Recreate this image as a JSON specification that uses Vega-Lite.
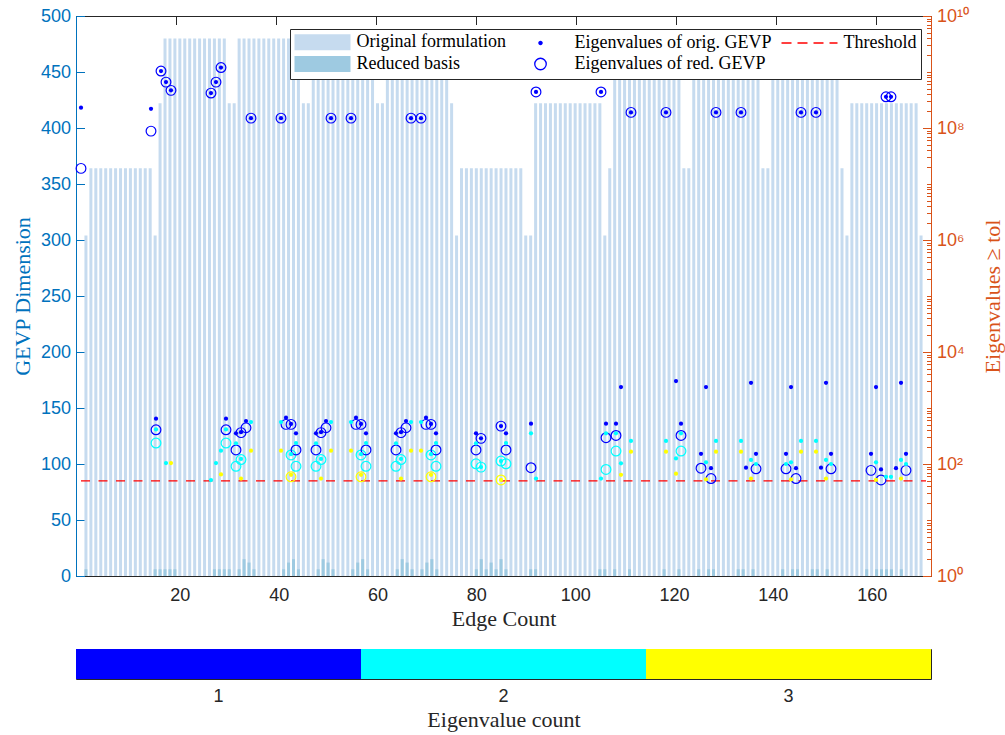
{
  "$schema": "https://vega.github.io/schema/vega-lite/v6.json",
  "background": "white",
  "padding": {"left": 10, "top": 6, "right": 0, "bottom": 2},
  "config": {
    "view": {"stroke": "#262626", "strokeWidth": 1},
    "axis": {"labelFont": "Liberation Sans", "labelFontSize": 18, "titleFont": "Liberation Serif", "titleFontSize": 22, "titleFontWeight": "normal", "grid": false, "domainWidth": 1, "tickWidth": 1}
  },
  "datasets": {
    "orig": [
      {"edge":1,"dim":304},{"edge":2,"dim":364},{"edge":3,"dim":364},{"edge":4,"dim":364},{"edge":5,"dim":364},{"edge":6,"dim":364},{"edge":7,"dim":364},{"edge":8,"dim":364},{"edge":9,"dim":364},{"edge":10,"dim":364},
      {"edge":11,"dim":364},{"edge":12,"dim":364},{"edge":13,"dim":364},{"edge":14,"dim":364},{"edge":15,"dim":304},{"edge":16,"dim":422},{"edge":17,"dim":480},{"edge":18,"dim":480},{"edge":19,"dim":480},{"edge":20,"dim":480},
      {"edge":21,"dim":480},{"edge":22,"dim":480},{"edge":23,"dim":480},{"edge":24,"dim":480},{"edge":25,"dim":480},{"edge":26,"dim":480},{"edge":27,"dim":480},{"edge":28,"dim":480},{"edge":29,"dim":480},{"edge":30,"dim":422},
      {"edge":31,"dim":422},{"edge":32,"dim":480},{"edge":33,"dim":480},{"edge":34,"dim":480},{"edge":35,"dim":480},{"edge":36,"dim":480},{"edge":37,"dim":480},{"edge":38,"dim":480},{"edge":39,"dim":480},{"edge":40,"dim":480},
      {"edge":41,"dim":480},{"edge":42,"dim":480},{"edge":43,"dim":480},{"edge":44,"dim":480},{"edge":45,"dim":422},{"edge":46,"dim":422},{"edge":47,"dim":480},{"edge":48,"dim":480},{"edge":49,"dim":480},{"edge":50,"dim":480},
      {"edge":51,"dim":480},{"edge":52,"dim":480},{"edge":53,"dim":480},{"edge":54,"dim":480},{"edge":55,"dim":480},{"edge":56,"dim":480},{"edge":57,"dim":480},{"edge":58,"dim":480},{"edge":59,"dim":480},{"edge":60,"dim":422},
      {"edge":61,"dim":422},{"edge":62,"dim":480},{"edge":63,"dim":480},{"edge":64,"dim":480},{"edge":65,"dim":480},{"edge":66,"dim":480},{"edge":67,"dim":480},{"edge":68,"dim":480},{"edge":69,"dim":480},{"edge":70,"dim":480},
      {"edge":71,"dim":480},{"edge":72,"dim":480},{"edge":73,"dim":480},{"edge":74,"dim":480},{"edge":75,"dim":422},{"edge":76,"dim":304},{"edge":77,"dim":364},{"edge":78,"dim":364},{"edge":79,"dim":364},{"edge":80,"dim":364},
      {"edge":81,"dim":364},{"edge":82,"dim":364},{"edge":83,"dim":364},{"edge":84,"dim":364},{"edge":85,"dim":364},{"edge":86,"dim":364},{"edge":87,"dim":364},{"edge":88,"dim":364},{"edge":89,"dim":364},{"edge":90,"dim":304},
      {"edge":91,"dim":304},{"edge":92,"dim":422},{"edge":93,"dim":422},{"edge":94,"dim":422},{"edge":95,"dim":422},{"edge":96,"dim":422},{"edge":97,"dim":422},{"edge":98,"dim":422},{"edge":99,"dim":422},{"edge":100,"dim":422},
      {"edge":101,"dim":422},{"edge":102,"dim":422},{"edge":103,"dim":422},{"edge":104,"dim":422},{"edge":105,"dim":422},{"edge":106,"dim":304},{"edge":107,"dim":364},{"edge":108,"dim":480},{"edge":109,"dim":480},{"edge":110,"dim":480},
      {"edge":111,"dim":480},{"edge":112,"dim":480},{"edge":113,"dim":480},{"edge":114,"dim":480},{"edge":115,"dim":480},{"edge":116,"dim":480},{"edge":117,"dim":480},{"edge":118,"dim":480},{"edge":119,"dim":480},{"edge":120,"dim":480},
      {"edge":121,"dim":480},{"edge":122,"dim":364},{"edge":123,"dim":364},{"edge":124,"dim":480},{"edge":125,"dim":480},{"edge":126,"dim":480},{"edge":127,"dim":480},{"edge":128,"dim":480},{"edge":129,"dim":480},{"edge":130,"dim":480},
      {"edge":131,"dim":480},{"edge":132,"dim":480},{"edge":133,"dim":480},{"edge":134,"dim":480},{"edge":135,"dim":480},{"edge":136,"dim":480},{"edge":137,"dim":480},{"edge":138,"dim":364},{"edge":139,"dim":364},{"edge":140,"dim":480},
      {"edge":141,"dim":480},{"edge":142,"dim":480},{"edge":143,"dim":480},{"edge":144,"dim":480},{"edge":145,"dim":480},{"edge":146,"dim":480},{"edge":147,"dim":480},{"edge":148,"dim":480},{"edge":149,"dim":480},{"edge":150,"dim":480},
      {"edge":151,"dim":480},{"edge":152,"dim":480},{"edge":153,"dim":480},{"edge":154,"dim":364},{"edge":155,"dim":304},{"edge":156,"dim":422},{"edge":157,"dim":422},{"edge":158,"dim":422},{"edge":159,"dim":422},{"edge":160,"dim":422},
      {"edge":161,"dim":422},{"edge":162,"dim":422},{"edge":163,"dim":422},{"edge":164,"dim":422},{"edge":165,"dim":422},{"edge":166,"dim":422},{"edge":167,"dim":422},{"edge":168,"dim":422},{"edge":169,"dim":422},{"edge":170,"dim":304}
    ],
    "reduced": [
      {"edge":1,"dim":6},{"edge":15,"dim":6},{"edge":16,"dim":6},{"edge":17,"dim":6},{"edge":18,"dim":6},{"edge":19,"dim":6},
      {"edge":27,"dim":6},{"edge":28,"dim":6},{"edge":29,"dim":6},{"edge":30,"dim":6},
      {"edge":32,"dim":6},{"edge":33,"dim":15},{"edge":34,"dim":12},{"edge":35,"dim":6},
      {"edge":41,"dim":6},{"edge":42,"dim":12},{"edge":43,"dim":15},{"edge":44,"dim":6},
      {"edge":48,"dim":6},{"edge":49,"dim":15},{"edge":50,"dim":12},{"edge":51,"dim":6},
      {"edge":55,"dim":6},{"edge":56,"dim":12},{"edge":57,"dim":15},{"edge":58,"dim":6},
      {"edge":64,"dim":6},{"edge":65,"dim":15},{"edge":66,"dim":12},{"edge":67,"dim":6},
      {"edge":69,"dim":6},{"edge":70,"dim":12},{"edge":71,"dim":15},{"edge":72,"dim":6},
      {"edge":80,"dim":6},{"edge":81,"dim":15},{"edge":82,"dim":6},{"edge":83,"dim":12},{"edge":84,"dim":6},{"edge":85,"dim":15},{"edge":86,"dim":6},
      {"edge":91,"dim":6},{"edge":92,"dim":6},{"edge":105,"dim":6},{"edge":106,"dim":6},{"edge":108,"dim":6},{"edge":111,"dim":6},{"edge":118,"dim":6},{"edge":121,"dim":6},
      {"edge":125,"dim":6},{"edge":127,"dim":6},{"edge":128,"dim":6},{"edge":133,"dim":6},{"edge":134,"dim":6},{"edge":136,"dim":6},
      {"edge":142,"dim":6},{"edge":144,"dim":6},{"edge":145,"dim":6},{"edge":148,"dim":6},{"edge":149,"dim":6},{"edge":151,"dim":6},
      {"edge":159,"dim":6},{"edge":161,"dim":6},{"edge":162,"dim":6},{"edge":163,"dim":6},{"edge":164,"dim":6},{"edge":166,"dim":6}
    ],
    "eigOrig": [
      {"edge":1,"eig":2.3e8,"k":1},{"edge":15,"eig":2.2e8,"k":1},
      {"edge":16,"eig":645,"k":1},{"edge":16,"eig":415,"k":2},
      {"edge":17,"eig":1.04e9,"k":1},
      {"edge":18,"eig":6.6e8,"k":1},{"edge":18,"eig":104,"k":2},
      {"edge":19,"eig":4.7e8,"k":1},{"edge":19,"eig":104,"k":3},
      {"edge":27,"eig":4.2e8,"k":1},{"edge":27,"eig":51.6,"k":2},
      {"edge":28,"eig":6.6e8,"k":1},{"edge":28,"eig":104,"k":2},
      {"edge":29,"eig":1.2e9,"k":1},{"edge":29,"eig":173,"k":2},{"edge":29,"eig":65,"k":3},
      {"edge":30,"eig":645,"k":1},{"edge":30,"eig":415,"k":2},
      {"edge":32,"eig":354,"k":1},{"edge":32,"eig":234,"k":2},{"edge":33,"eig":370,"k":1},{"edge":33,"eig":123,"k":2},{"edge":33,"eig":55,"k":3},{"edge":34,"eig":586,"k":1},{"edge":35,"eig":1.5e8,"k":1},{"edge":35,"eig":562,"k":2},{"edge":35,"eig":173,"k":3},
      {"edge":41,"eig":1.5e8,"k":1},{"edge":41,"eig":562,"k":2},{"edge":41,"eig":173,"k":3},{"edge":42,"eig":670,"k":1},{"edge":43,"eig":520,"k":1},{"edge":43,"eig":150,"k":2},{"edge":43,"eig":64,"k":3},{"edge":44,"eig":354,"k":1},{"edge":44,"eig":237,"k":2},
      {"edge":48,"eig":354,"k":1},{"edge":48,"eig":234,"k":2},{"edge":49,"eig":370,"k":1},{"edge":49,"eig":123,"k":2},{"edge":49,"eig":55,"k":3},{"edge":50,"eig":586,"k":1},{"edge":51,"eig":1.5e8,"k":1},{"edge":51,"eig":562,"k":2},{"edge":51,"eig":173,"k":3},
      {"edge":55,"eig":1.5e8,"k":1},{"edge":55,"eig":562,"k":2},{"edge":55,"eig":173,"k":3},{"edge":56,"eig":670,"k":1},{"edge":57,"eig":520,"k":1},{"edge":57,"eig":150,"k":2},{"edge":57,"eig":64,"k":3},{"edge":58,"eig":354,"k":1},{"edge":58,"eig":237,"k":2},
      {"edge":64,"eig":354,"k":1},{"edge":64,"eig":234,"k":2},{"edge":65,"eig":370,"k":1},{"edge":65,"eig":123,"k":2},{"edge":65,"eig":55,"k":3},{"edge":66,"eig":586,"k":1},{"edge":67,"eig":1.5e8,"k":1},{"edge":67,"eig":562,"k":2},{"edge":67,"eig":173,"k":3},
      {"edge":69,"eig":1.5e8,"k":1},{"edge":69,"eig":562,"k":2},{"edge":69,"eig":173,"k":3},{"edge":70,"eig":670,"k":1},{"edge":71,"eig":520,"k":1},{"edge":71,"eig":150,"k":2},{"edge":71,"eig":64,"k":3},{"edge":72,"eig":354,"k":1},{"edge":72,"eig":237,"k":2},
      {"edge":80,"eig":354,"k":1},{"edge":80,"eig":234,"k":2},{"edge":81,"eig":287,"k":1},{"edge":81,"eig":88,"k":2},{"edge":85,"eig":475,"k":1},{"edge":85,"eig":113,"k":2},{"edge":85,"eig":52,"k":3},{"edge":86,"eig":354,"k":1},{"edge":86,"eig":237,"k":2},
      {"edge":91,"eig":525,"k":1},{"edge":91,"eig":354,"k":2},{"edge":92,"eig":4.4e8,"k":1},{"edge":92,"eig":55,"k":2},
      {"edge":105,"eig":4.4e8,"k":1},{"edge":105,"eig":55,"k":2},{"edge":106,"eig":525,"k":1},{"edge":106,"eig":354,"k":2},{"edge":108,"eig":525,"k":1},{"edge":108,"eig":354,"k":2},
      {"edge":109,"eig":2370,"k":1},{"edge":109,"eig":103,"k":2},{"edge":109,"eig":64,"k":3},
      {"edge":111,"eig":1.9e8,"k":1},{"edge":111,"eig":258,"k":2},{"edge":111,"eig":166,"k":3},
      {"edge":118,"eig":1.9e8,"k":1},{"edge":118,"eig":258,"k":2},{"edge":118,"eig":166,"k":3},
      {"edge":120,"eig":3030,"k":1},{"edge":120,"eig":126,"k":2},{"edge":120,"eig":67,"k":3},{"edge":121,"eig":525,"k":1},{"edge":121,"eig":354,"k":2},
      {"edge":125,"eig":152,"k":1},{"edge":126,"eig":2370,"k":1},{"edge":126,"eig":107,"k":2},{"edge":126,"eig":53,"k":3},{"edge":127,"eig":84,"k":1},
      {"edge":128,"eig":1.9e8,"k":1},{"edge":128,"eig":258,"k":2},{"edge":128,"eig":166,"k":3},
      {"edge":133,"eig":1.9e8,"k":1},{"edge":133,"eig":258,"k":2},{"edge":133,"eig":166,"k":3},
      {"edge":134,"eig":86,"k":1},{"edge":135,"eig":2820,"k":1},{"edge":135,"eig":118,"k":2},{"edge":135,"eig":55,"k":3},{"edge":136,"eig":152,"k":1},{"edge":136,"eig":100,"k":2},
      {"edge":142,"eig":152,"k":1},{"edge":142,"eig":100,"k":2},{"edge":143,"eig":2370,"k":1},{"edge":143,"eig":107,"k":2},{"edge":143,"eig":53,"k":3},{"edge":144,"eig":84,"k":1},
      {"edge":145,"eig":1.9e8,"k":1},{"edge":145,"eig":258,"k":2},{"edge":145,"eig":166,"k":3},
      {"edge":148,"eig":1.9e8,"k":1},{"edge":148,"eig":258,"k":2},{"edge":148,"eig":166,"k":3},
      {"edge":149,"eig":86,"k":1},{"edge":150,"eig":2820,"k":1},{"edge":150,"eig":118,"k":2},{"edge":150,"eig":55,"k":3},{"edge":151,"eig":152,"k":1},{"edge":151,"eig":100,"k":2},
      {"edge":159,"eig":152,"k":1},{"edge":160,"eig":2370,"k":1},{"edge":160,"eig":107,"k":2},{"edge":160,"eig":52,"k":3},{"edge":161,"eig":80,"k":1},
      {"edge":162,"eig":3.6e8,"k":1},{"edge":162,"eig":59,"k":2},{"edge":163,"eig":3.6e8,"k":1},{"edge":163,"eig":59,"k":2},
      {"edge":164,"eig":84,"k":1},{"edge":165,"eig":2820,"k":1},{"edge":165,"eig":118,"k":2},{"edge":165,"eig":55,"k":3},{"edge":166,"eig":152,"k":1},{"edge":166,"eig":100,"k":2}
    ],
    "eigRed": [
      {"edge":1,"eig":1.9e7,"k":1},{"edge":15,"eig":8.8e7,"k":1},{"edge":16,"eig":408,"k":1},{"edge":16,"eig":237,"k":2},
      {"edge":17,"eig":1.04e9,"k":1},{"edge":18,"eig":6.6e8,"k":1},{"edge":19,"eig":4.7e8,"k":1},
      {"edge":27,"eig":4.2e8,"k":1},{"edge":28,"eig":6.6e8,"k":1},{"edge":29,"eig":1.2e9,"k":1},{"edge":30,"eig":408,"k":1},{"edge":30,"eig":237,"k":2},
      {"edge":32,"eig":178,"k":1},{"edge":32,"eig":91,"k":2},{"edge":33,"eig":363,"k":1},{"edge":33,"eig":120,"k":2},{"edge":34,"eig":444,"k":1},{"edge":35,"eig":1.5e8,"k":1},
      {"edge":41,"eig":1.5e8,"k":1},{"edge":42,"eig":510,"k":1},{"edge":43,"eig":510,"k":1},{"edge":43,"eig":145,"k":2},{"edge":43,"eig":59,"k":3},{"edge":44,"eig":178,"k":1},{"edge":44,"eig":91,"k":2},
      {"edge":48,"eig":178,"k":1},{"edge":48,"eig":91,"k":2},{"edge":49,"eig":363,"k":1},{"edge":49,"eig":120,"k":2},{"edge":50,"eig":444,"k":1},{"edge":51,"eig":1.5e8,"k":1},
      {"edge":55,"eig":1.5e8,"k":1},{"edge":56,"eig":510,"k":1},{"edge":57,"eig":510,"k":1},{"edge":57,"eig":145,"k":2},{"edge":57,"eig":59,"k":3},{"edge":58,"eig":178,"k":1},{"edge":58,"eig":91,"k":2},
      {"edge":64,"eig":178,"k":1},{"edge":64,"eig":91,"k":2},{"edge":65,"eig":363,"k":1},{"edge":65,"eig":120,"k":2},{"edge":66,"eig":444,"k":1},{"edge":67,"eig":1.5e8,"k":1},
      {"edge":69,"eig":1.5e8,"k":1},{"edge":70,"eig":510,"k":1},{"edge":71,"eig":510,"k":1},{"edge":71,"eig":145,"k":2},{"edge":71,"eig":59,"k":3},{"edge":72,"eig":178,"k":1},{"edge":72,"eig":91,"k":2},
      {"edge":80,"eig":178,"k":1},{"edge":80,"eig":101,"k":2},{"edge":81,"eig":287,"k":1},{"edge":81,"eig":88,"k":2},{"edge":85,"eig":475,"k":1},{"edge":85,"eig":113,"k":2},{"edge":85,"eig":52,"k":3},{"edge":86,"eig":178,"k":1},{"edge":86,"eig":101,"k":2},
      {"edge":91,"eig":86,"k":1},{"edge":92,"eig":4.4e8,"k":1},{"edge":105,"eig":4.4e8,"k":1},{"edge":106,"eig":295,"k":1},{"edge":106,"eig":80,"k":2},{"edge":108,"eig":324,"k":1},{"edge":108,"eig":170,"k":2},
      {"edge":111,"eig":1.9e8,"k":1},{"edge":118,"eig":1.9e8,"k":1},{"edge":121,"eig":324,"k":1},{"edge":121,"eig":170,"k":2},
      {"edge":125,"eig":84,"k":1},{"edge":127,"eig":55,"k":1},{"edge":128,"eig":1.9e8,"k":1},{"edge":133,"eig":1.9e8,"k":1},{"edge":136,"eig":82,"k":1},
      {"edge":142,"eig":82,"k":1},{"edge":144,"eig":55,"k":1},{"edge":145,"eig":1.9e8,"k":1},{"edge":148,"eig":1.9e8,"k":1},{"edge":151,"eig":82,"k":1},
      {"edge":159,"eig":77,"k":1},{"edge":161,"eig":52,"k":1},{"edge":162,"eig":3.6e8,"k":1},{"edge":163,"eig":3.6e8,"k":1},{"edge":166,"eig":77,"k":1}
    ],
    "thr": [{"from":1,"to":170,"tol":50}],
    "legendItems": [
      {"item":"Original formulation"},{"item":"Eigenvalues of orig. GEVP"},{"item":"Threshold"},{"item":"Reduced basis"},{"item":"Eigenvalues of red. GEVP"}
    ],
    "counts": [{"k":1},{"k":2},{"k":3}]
  },
  "vconcat": [
    {
      "width": 855,
      "height": 560,
      "layer": [
        {
          "layer": [
            {
              "data": {"name": "orig"},
              "mark": {"type": "bar", "width": 3, "color": "#c6dbef"},
              "encoding": {
                "x": {"field": "edge", "type": "quantitative", "scale": {"domain": [0, 171], "nice": false, "zero": false},
                  "axis": {"orient": "bottom", "values": [20,40,60,80,100,120,140,160], "title": "Edge Count", "tickSize": -8.5, "labelPadding": 19, "titlePadding": 4,
                    "domainColor": "#262626", "tickColor": "#262626", "labelColor": "#262626", "titleColor": "#262626"}},
                "y": {"field": "dim", "type": "quantitative", "scale": {"domain": [0, 500], "nice": false},
                  "axis": {"orient": "left", "values": [0,50,100,150,200,250,300,350,400,450,500], "title": "GEVP Dimension", "tickSize": -8.5, "labelPadding": 14, "titlePadding": 6,
                    "domainColor": "#0072BD", "tickColor": "#0072BD", "labelColor": "#0072BD", "titleColor": "#0072BD"}}
              }
            },
            {
              "data": {"name": "reduced"},
              "mark": {"type": "bar", "width": 3, "color": "#9ecae1"},
              "encoding": {
                "x": {"field": "edge", "type": "quantitative"},
                "y": {"field": "dim", "type": "quantitative"}
              }
            }
          ]
        },
        {
          "layer": [
            {
              "data": {"name": "thr"},
              "mark": {"type": "rule", "color": "#ff0000", "strokeWidth": 1.3, "strokeDash": [9, 8.5]},
              "encoding": {
                "x": {"field": "from", "type": "quantitative", "scale": {"domain": [0, 171], "nice": false, "zero": false},
                  "axis": {"orient": "top", "values": [20,40,60,80,100,120,140,160], "labels": false, "title": null, "tickSize": -8.5, "domainColor": "#262626", "tickColor": "#262626"}},
                "x2": {"field": "to"},
                "y": {"field": "tol", "type": "quantitative", "scale": {"type": "log", "domain": [1, 1e10], "nice": false},
                  "axis": {"orient": "right", "values": [1, 100, 10000, 1000000, 100000000, 10000000000], "tickSize": -8.5, "labelPadding": 14, "titlePadding": 14,
                    "labelExpr": "datum.value == 1 ? '10⁰' : datum.value == 100 ? '10²' : datum.value == 10000 ? '10⁴' : datum.value == 1000000 ? '10⁶' : datum.value == 100000000 ? '10⁸' : '10¹⁰'",
                    "title": "Eigenvalues ≥ tol", "titleAngle": 270, "titleBaseline": "top", "domainColor": "#D95319", "tickColor": "#D95319", "labelColor": "#D95319", "titleColor": "#D95319"}}
              }
            },
            {
              "data": {"name": "eigRed"},
              "mark": {"type": "point", "filled": false, "size": 95, "strokeWidth": 1.2, "opacity": 1},
              "encoding": {
                "x": {"field": "edge", "type": "quantitative"},
                "y": {"field": "eig", "type": "quantitative"},
                "color": {"field": "k", "type": "ordinal", "scale": {"domain": [1, 2, 3], "range": ["#0000ff", "#00ffff", "#ffff00"]}, "legend": null}
              }
            },
            {
              "data": {"name": "eigOrig"},
              "mark": {"type": "point", "filled": true, "size": 18, "opacity": 1},
              "encoding": {
                "x": {"field": "edge", "type": "quantitative"},
                "y": {"field": "eig", "type": "quantitative"},
                "color": {"field": "k", "type": "ordinal", "scale": {"domain": [1, 2, 3], "range": ["#0000ff", "#00ffff", "#ffff00"]}, "legend": null}
              }
            }
          ]
        },
        {
          "data": {"name": "legendItems"},
          "mark": {"type": "point", "opacity": 1},
          "encoding": {
            "x": {"field": "edge", "type": "quantitative", "scale": {"domain": [0, 171], "nice": false, "zero": false}, "axis": null},
            "y": {"field": "eig", "type": "quantitative", "scale": {"type": "log", "domain": [1, 1e10], "nice": false},
              "axis": {"orient": "right", "labels": false, "domain": false, "title": null, "tickSize": -4.5, "tickColor": "#D95319",
                "values": [2,3,4,5,6,7,8,9,10,20,30,40,50,60,70,80,90,200,300,400,500,600,700,800,900,1000,2000,3000,4000,5000,6000,7000,8000,9000,20000,30000,40000,50000,60000,70000,80000,90000,100000,200000,300000,400000,500000,600000,700000,800000,900000,2e6,3e6,4e6,5e6,6e6,7e6,8e6,9e6,1e7,2e7,3e7,4e7,5e7,6e7,7e7,8e7,9e7,2e8,3e8,4e8,5e8,6e8,7e8,8e8,9e8,1e9,2e9,3e9,4e9,5e9,6e9,7e9,8e9,9e9]}},
            "shape": {"field": "item", "type": "nominal",
              "scale": {"domain": ["Original formulation","Eigenvalues of orig. GEVP","Threshold","Reduced basis","Eigenvalues of red. GEVP"],
                "range": ["M-3.5,-1H3.5V1H-3.5Z", "M0.28,0A0.28,0.28,0,1,1,-0.28,0A0.28,0.28,0,1,1,0.28,0Z", "M-3.5,0H-2.25M-1.5,0H-0.25M0.5,0H1.75M2.5,0H3.5", "M-3.5,-1H3.5V1H-3.5Z", "M0.72,0A0.72,0.72,0,1,1,-0.72,0A0.72,0.72,0,1,1,0.72,0Z"]},
              "legend": {"orient": "none", "legendX": 214, "legendY": 13, "direction": "horizontal", "columns": 3, "title": null,
                "symbolSize": 256, "symbolOffset": 19.5, "labelOffset": 25, "symbolStrokeWidth": 1.3, "symbolOpacity": 1,
                "labelFont": "Liberation Serif", "labelFontSize": 18, "labelColor": "#000000", "labelLimit": 400,
                "strokeColor": "#262626", "fillColor": "#ffffff", "padding": 4, "rowPadding": 0, "columnPadding": 6}},
            "fill": {"field": "item", "type": "nominal",
              "scale": {"domain": ["Original formulation","Eigenvalues of orig. GEVP","Threshold","Reduced basis","Eigenvalues of red. GEVP"],
                "range": ["#c6dbef", "#0000ff", "transparent", "#9ecae1", "transparent"]},
              "legend": {"orient": "none", "legendX": 214, "legendY": 13, "direction": "horizontal", "columns": 3, "title": null}},
            "stroke": {"field": "item", "type": "nominal",
              "scale": {"domain": ["Original formulation","Eigenvalues of orig. GEVP","Threshold","Reduced basis","Eigenvalues of red. GEVP"],
                "range": ["transparent", "transparent", "#ff0000", "transparent", "#0000ff"]},
              "legend": {"orient": "none", "legendX": 214, "legendY": 13, "direction": "horizontal", "columns": 3, "title": null}}
          }
        }
      ],
      "resolve": {"scale": {"x": "independent", "y": "independent"}, "axis": {"x": "independent", "y": "independent"}}
    },
    {
      "width": 855,
      "height": 30,
      "data": {"name": "counts"},
      "mark": {"type": "rect"},
      "encoding": {
        "x": {"field": "k", "type": "ordinal", "scale": {"paddingInner": 0, "paddingOuter": 0},
          "axis": {"title": "Eigenvalue count", "labelAngle": 0, "ticks": false, "domain": false, "labelPadding": 8, "titlePadding": 4, "labelColor": "#262626", "titleColor": "#262626"}},
        "color": {"field": "k", "type": "ordinal", "scale": {"domain": [1, 2, 3], "range": ["#0000ff", "#00ffff", "#ffff00"]}, "legend": null}
      }
    }
  ],
  "spacing": 18
}
